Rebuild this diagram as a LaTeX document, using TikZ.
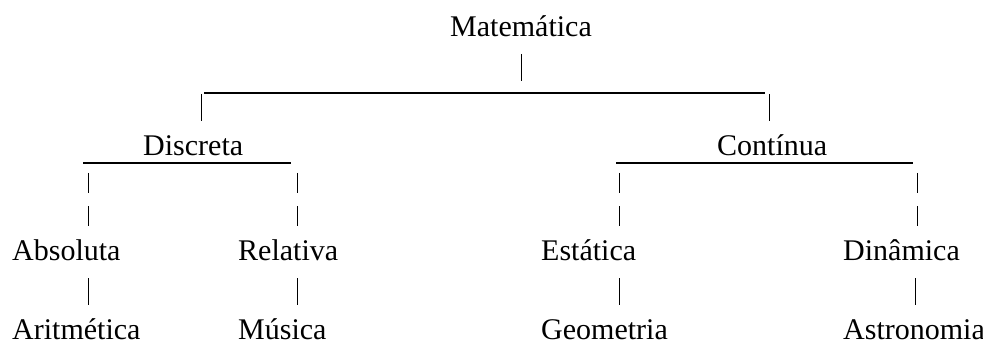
\documentclass[tikz,border=0pt]{standalone}
\usepackage{fontspec}
\setmainfont{Liberation Serif}
\begin{document}
\begin{tikzpicture}[x=1pt,y=-1pt,
  lbl/.style={anchor=base west, inner sep=0pt, font=\fontsize{30}{36}\selectfont},
  rule/.style={line width=1.3pt},
  bar/.style={line width=0.9pt}]
\useasboundingbox (0,0) rectangle (983,342);
% labels
\node[lbl] (mat) at (450,37) {Matemática};
\node[lbl] (dis) at (143,156) {Discreta};
\node[lbl] (con) at (717,156) {Contínua};
\node[lbl] (abs) at (12,260) {Absoluta};
\node[lbl] (rel) at (238,260) {Relativa};
\node[lbl] (est) at (541,260) {Estática};
\node[lbl] (din) at (843,260) {Dinâmica};
\node[lbl] (ari) at (12,339) {Aritmética};
\node[lbl] (mus) at (238,339) {Música};
\node[lbl] (geo) at (541,339) {Geometria};
\node[lbl] (ast) at (843,339) {Astronomia};
% horizontal rules
\draw[rule] (204,93) -- (765,93);
\draw[rule] (83,163) -- (291,163);
\draw[rule] (616,163) -- (913,163);
% vertical bars
\draw[bar] (521.7,54) -- (521.7,81);
\draw[bar] (201,94) -- (201,121);
\draw[bar] (769,94) -- (769,121);
\foreach \x in {88,297,619,917}{
  \draw[bar] (\x,173) -- (\x,193);
  \draw[bar] (\x,206) -- (\x,226);
}
\foreach \x in {88,297,619,915}{
  \draw[bar] (\x,278) -- (\x,305);
}
\end{tikzpicture}
\end{document}
